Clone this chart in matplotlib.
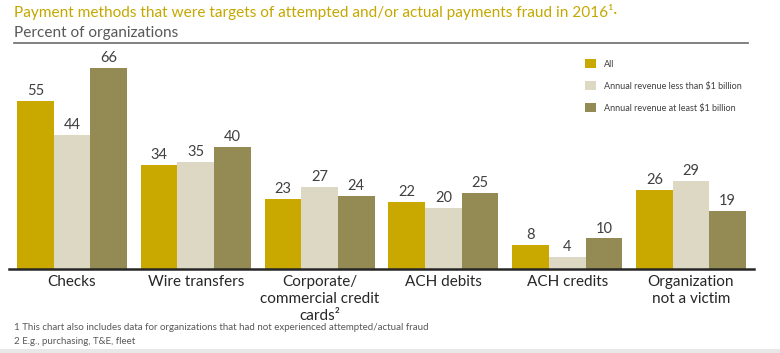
import numpy as np
import matplotlib.pyplot as plt
from matplotlib.patches import Rectangle

plt.rcParams['font.family'] = ['Lato', 'DejaVu Sans']

# Data
categories = ['Checks', 'Wire transfers', 'Corporate/\ncommercial credit\ncards\u00b2',
              'ACH debits', 'ACH credits', 'Organization\nnot a victim']
series_names = ['All', 'Annual revenue less than $1 billion', 'Annual revenue at least $1 billion']
all_orgs = [55, 34, 23, 22, 8, 26]
rev_small = [44, 35, 27, 20, 4, 29]
rev_large = [66, 40, 24, 25, 10, 19]
footnotes = ['1 This chart also includes data for organizations that had not experienced attempted/actual fraud',
             '2 E.g., purchasing, T&E, fleet']

colors = ['#C9A800', '#DDD8C3', '#948A54']

W, H = 780, 353
fig = plt.figure(figsize=(W / 100, H / 100), dpi=100)

def px(x0, y0, x1, y1):
    # pixel box (top-left origin) -> figure fraction
    return [x0 / W, 1 - y1 / H, (x1 - x0) / W, (y1 - y0) / H]

ax = fig.add_axes(px(9, 60, 754, 269))
x = np.arange(len(categories))
bw = 0.296
for k, (vals, c, name) in enumerate(zip([all_orgs, rev_small, rev_large], colors, series_names)):
    bars = ax.bar(x + (k - 1) * bw, vals, bw, color=c, label=name)
    ax.bar_label(bars, padding=2, fontsize=10.5, color='#404040')

ax.set_xlim(-0.509, 5.509)
ax.set_ylim(0, 68.5)
for s in ['top', 'right', 'left']:
    ax.spines[s].set_visible(False)
ax.spines['bottom'].set_color('#262626')
ax.spines['bottom'].set_linewidth(1.8)
ax.set_yticks([])
ax.set_xticks(x)
ax.set_xticklabels(categories, fontsize=11, color='#262626', linespacing=1.3)
ax.tick_params(axis='x', length=0, pad=4)

leg = ax.legend(loc='upper left', bbox_to_anchor=(577 / W, 1 - 51 / H),
                bbox_transform=fig.transFigure, frameon=False, fontsize=6.5,
                handlelength=1.2, handleheight=1.2, labelspacing=1.35,
                handletextpad=0.9)
for t in leg.get_texts():
    t.set_color('#404040')

# Titles
fig.text(14 / W, 1 - 12 / H, 'Payment methods that were targets of attempted and/or actual payments fraud in 2016\u00b9\u00b7',
         fontsize=11.1, color='#C4A800', va='center', ha='left')
fig.text(14 / W, 1 - 33 / H, 'Percent of organizations', fontsize=11.1, color='#595959',
         va='center', ha='left')
fig.add_artist(plt.Line2D([14 / W, 748 / W], [1 - 43 / H, 1 - 43 / H], color='#6b6b6b', lw=1.2))

# Footnotes
fig.text(14 / W, 1 - 328 / H, footnotes[0], fontsize=7, color='#595959', va='center', ha='left')
fig.text(14 / W, 1 - 341 / H, footnotes[1], fontsize=7, color='#595959', va='center', ha='left')

fig.add_artist(Rectangle((0, 0), 1, 4 / H, transform=fig.transFigure, color='#E8E8E8', lw=0))

fig.savefig('out.png', dpi=100, facecolor='white')
